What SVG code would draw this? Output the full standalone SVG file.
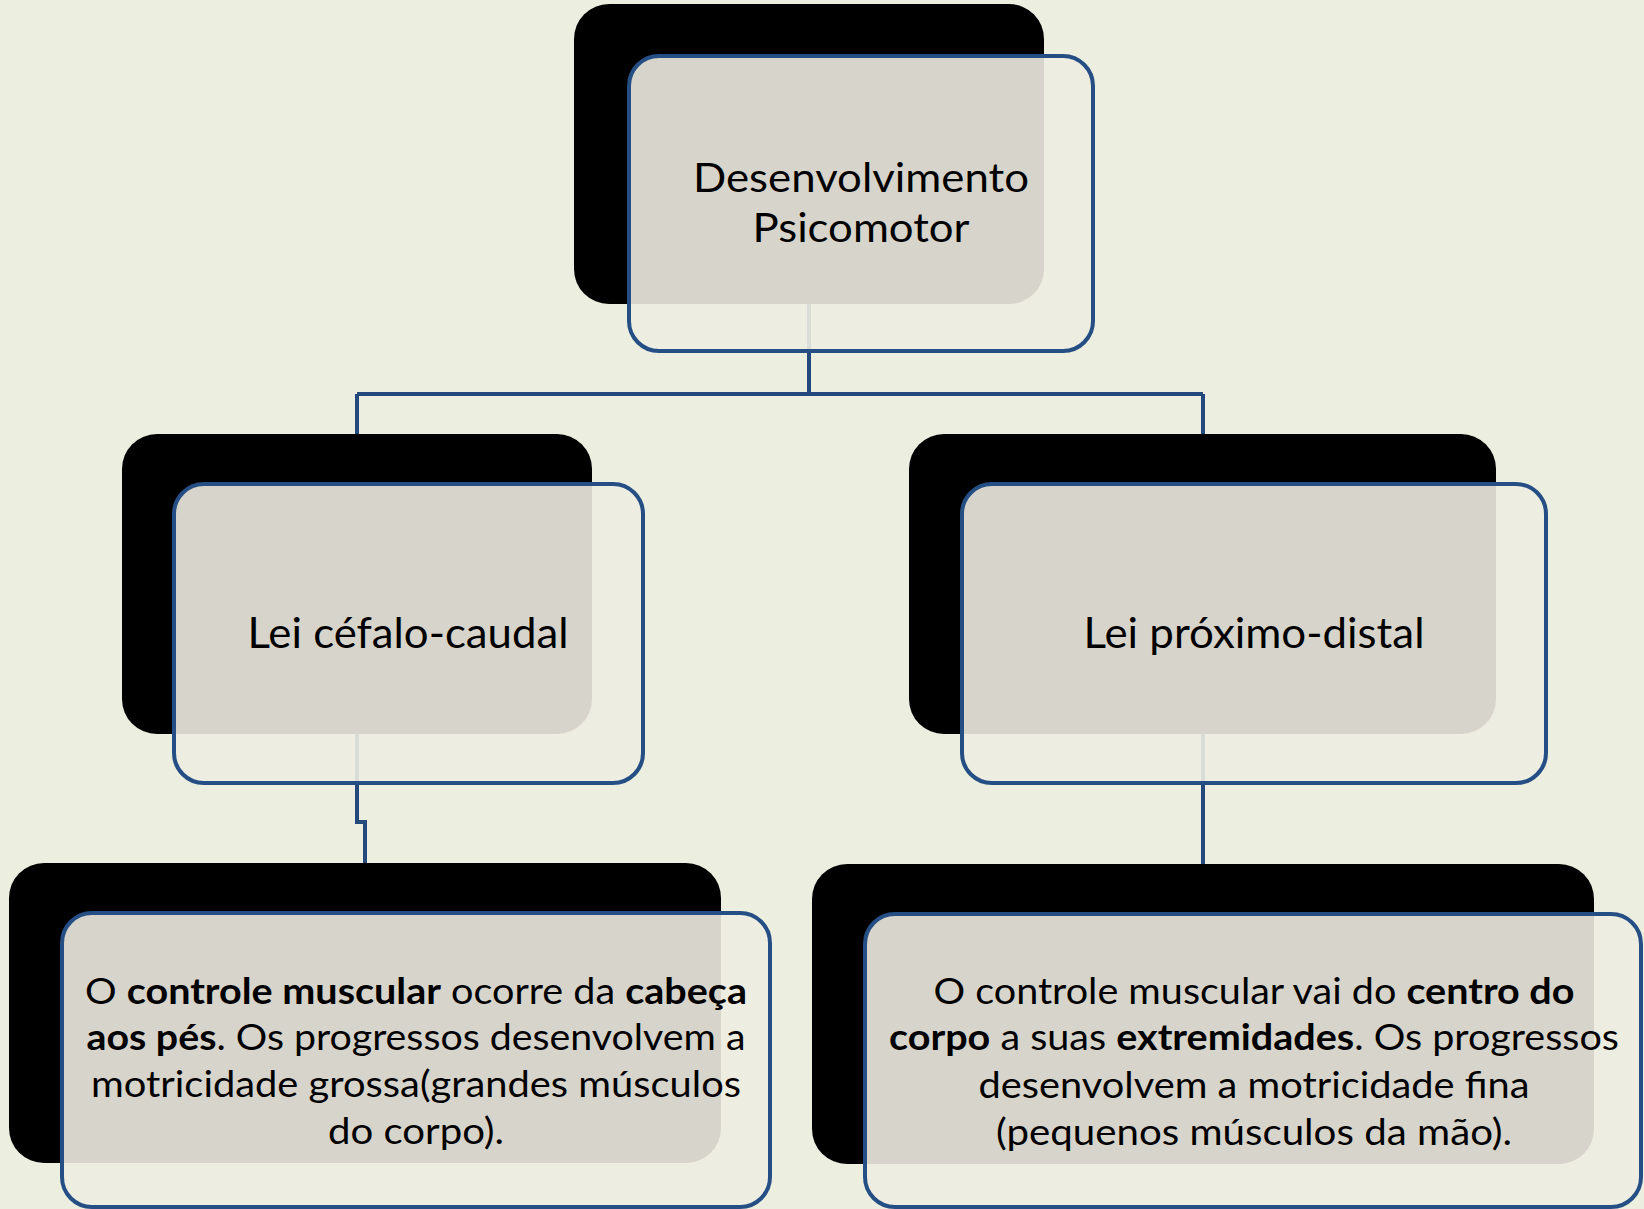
<svg xmlns="http://www.w3.org/2000/svg" width="1644" height="1209" viewBox="0 0 1644 1209">
<style>
.bg{fill:#ECEFDF}
.shadow{fill:#000}
.card{fill:#EEECE1;fill-opacity:0.9;stroke:#254F84;stroke-width:4}
.conn{fill:none;stroke:#23497D;stroke-width:4}
.t{font-family:Lato,"Open Sans","Liberation Sans",sans-serif;fill:#000;text-anchor:middle}
.top{font-size:41.5px}
.lbl{font-size:43px}
.body{font-size:36px}
.b{font-weight:700}
</style>
<rect class="bg" x="0" y="0" width="1644" height="1209"/>
<g id="connectors">
<path class="conn" d="M809,304 V394 M357,394 H1203 M357,394 V434 M1203,394 V434"/>
<path class="conn" d="M357,734 V822 H365 V864"/>
<path class="conn" d="M1203,734 V864"/>
</g>
<g id="node-top">
<rect class="shadow" x="574" y="4" width="470" height="300" rx="35"/>
<rect class="card" x="629" y="56" width="464" height="295" rx="30"/>
<text class="t top" x="861" y="192" textLength="336" lengthAdjust="spacingAndGlyphs">Desenvolvimento</text>
<text class="t top" x="861" y="242" textLength="217" lengthAdjust="spacingAndGlyphs">Psicomotor</text>
</g>
<g id="node-cefalo">
<rect class="shadow" x="122" y="434" width="470" height="300" rx="35"/>
<rect class="card" x="174" y="484" width="469" height="299" rx="30"/>
<text class="t lbl" x="408" y="648" textLength="321" lengthAdjust="spacingAndGlyphs">Lei céfalo-caudal</text>
</g>
<g id="node-proximo">
<rect class="shadow" x="909" y="434" width="587" height="300" rx="35"/>
<rect class="card" x="962" y="484" width="584" height="299" rx="30"/>
<text class="t lbl" x="1254" y="648" textLength="341" lengthAdjust="spacingAndGlyphs">Lei próximo-distal</text>
</g>
<g id="node-cefalo-desc">
<rect class="shadow" x="9" y="863" width="712" height="300" rx="35"/>
<rect class="card" x="62" y="913" width="708" height="294" rx="30"/>
<text class="t body" x="416" y="1004" textLength="662" lengthAdjust="spacingAndGlyphs">O <tspan class="b">controle muscular</tspan> ocorre da <tspan class="b">cabeça</tspan></text>
<text class="t body" x="416" y="1050" textLength="659" lengthAdjust="spacingAndGlyphs"><tspan class="b">aos pés</tspan>. Os progressos desenvolvem a</text>
<text class="t body" x="416" y="1097" textLength="650" lengthAdjust="spacingAndGlyphs">motricidade grossa(grandes músculos</text>
<text class="t body" x="416" y="1144" textLength="176" lengthAdjust="spacingAndGlyphs">do corpo).</text>
</g>
<g id="node-proximo-desc">
<rect class="shadow" x="812" y="864" width="782" height="300" rx="35"/>
<rect class="card" x="865" y="914" width="776" height="293" rx="30"/>
<text class="t body" x="1254" y="1004" textLength="641" lengthAdjust="spacingAndGlyphs">O controle muscular vai do <tspan class="b">centro do</tspan></text>
<text class="t body" x="1254" y="1050" textLength="730" lengthAdjust="spacingAndGlyphs"><tspan class="b">corpo</tspan> a suas <tspan class="b">extremidades</tspan>. Os progressos</text>
<text class="t body" x="1254" y="1098" textLength="551" lengthAdjust="spacingAndGlyphs">desenvolvem a motricidade fina</text>
<text class="t body" x="1254" y="1145" textLength="516" lengthAdjust="spacingAndGlyphs">(pequenos músculos da mão).</text>
</g>
</svg>
